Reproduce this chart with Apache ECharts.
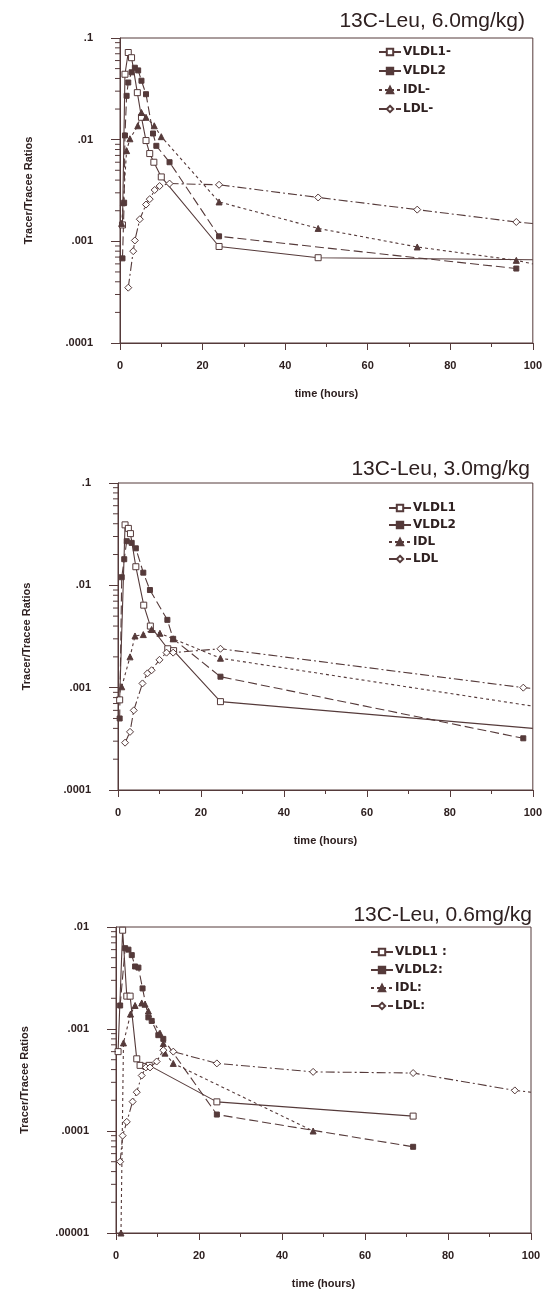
<!DOCTYPE html>
<html>
<head>
    <meta charset="utf-8">
    <title>Tracer/Tracee</title>
    <script src="https://cdn.jsdelivr.net/npm/echarts@6/dist/echarts.min.js"></script>
    <style>
        body { margin: 0; background: #fff; }
        #main { width: 545px; height: 1293px; }
    </style>
</head>
<body>
<div id="main"></div>

<script type="text/javascript">
    // panel titles and legend names
    var titles = ['13C-Leu, 6.0mg/kg)', '13C-Leu, 3.0mg/kg', '13C-Leu, 0.6mg/kg'];
    var names6 = ['VLDL1-', 'VLDL2', 'IDL-', 'LDL-'];
    var names3 = ['VLDL1', 'VLDL2', 'IDL', 'LDL'];
    var names06 = ['VLDL1 :', 'VLDL2:', 'IDL:', 'LDL:'];

    // tick labels
    var xTicks = ['0', '20', '40', '60', '80', '100'];
    var yTicksTop = ['.1', '.01', '.001', '.0001'];
    var yTicksBottom = ['.01', '.001', '.0001', '.00001'];

    // [time (hours), ratio]  -- 6.0 mg/kg
    var vldl1_6 = [[0.6, 0.00145], [1.2, 0.044], [2, 0.072], [2.8, 0.064], [4.2, 0.029], [5.2, 0.0166], [6.3, 0.0098], [7.2, 0.0073], [8.2, 0.006], [10, 0.0043], [24, 0.00089], [48, 0.00069], [100, 0.00066]];
    var vldl2_6 = [[0.6, 0.00068], [1, 0.0024], [1.2, 0.011], [1.6, 0.027], [2, 0.0365], [2.8, 0.046], [3.6, 0.051], [4.4, 0.048], [5.2, 0.038], [6.3, 0.028], [8, 0.0115], [8.8, 0.0087], [12, 0.006], [24, 0.00112], [96, 0.00054]];
    var idl_6 = [[0.4, 0.0015], [0.8, 0.0024], [1.6, 0.0078], [2.4, 0.0102], [4.3, 0.0137], [5.2, 0.0185], [6.3, 0.0166], [8.3, 0.0137], [10, 0.0107], [24, 0.00244], [48, 0.00134], [72, 0.00088], [96, 0.00065], [100, 0.0006]];
    var ldl_6 = [[2, 0.00035], [3.2, 0.0008], [3.6, 0.00102], [4.8, 0.00165], [6.3, 0.0023], [7.2, 0.0026], [8.4, 0.0032], [9.6, 0.0035], [12, 0.0037], [24, 0.0036], [48, 0.0027], [72, 0.00205], [96, 0.00155], [100, 0.0015]];

    // 3.0 mg/kg
    var vldl1_3 = [[0.4, 0.00076], [1.7, 0.039], [2.5, 0.036], [3, 0.032], [4.3, 0.0152], [6.2, 0.0064], [7.8, 0.004], [12, 0.0024], [13.4, 0.0023], [24.7, 0.00073], [100, 0.0004]];
    var vldl2_3 = [[0.4, 0.0005], [0.9, 0.012], [1.5, 0.018], [2.1, 0.027], [3.3, 0.026], [4.3, 0.023], [6.1, 0.0133], [7.7, 0.009], [11.9, 0.0046], [13.3, 0.003], [24.7, 0.00128], [97.7, 0.00032]];
    var idl_3 = [[0.9, 0.00102], [2.9, 0.002], [4.1, 0.0032], [6.1, 0.0033], [8.1, 0.0037], [10.1, 0.0034], [13.3, 0.003], [24.7, 0.00194], [100, 0.00066]];
    var ldl_3 = [[1.7, 0.00029], [2.9, 0.00037], [3.8, 0.0006], [5.9, 0.0011], [7.1, 0.00138], [8.1, 0.00148], [10, 0.00187], [11.7, 0.0022], [13.3, 0.0022], [24.7, 0.0024], [97.7, 0.001], [100, 0.00098]];

    // 0.6 mg/kg
    var vldl1_06 = [[0.5, 0.0006], [1.6, 0.0093], [2.6, 0.0021], [3.4, 0.0021], [5, 0.00051], [5.8, 0.00044], [7.2, 0.00043], [8, 0.00044], [24.3, 0.000193], [71.6, 0.00014]];
    var vldl2_06 = [[1, 0.0017], [2.2, 0.0062], [3, 0.006], [3.8, 0.0053], [4.6, 0.0041], [5.4, 0.004], [6.4, 0.0025], [7.8, 0.0013], [8.6, 0.0012], [10.2, 0.00087], [11.4, 0.0008], [24.3, 0.000145], [71.6, 0.00007]];
    var idl_06 = [[1.2, 0.00001], [1.8, 0.00073], [3.5, 0.0014], [4.6, 0.0017], [6.2, 0.0018], [7, 0.00175], [7.8, 0.0015], [10.6, 0.00091], [11.4, 0.00072], [11.8, 0.00058], [13.8, 0.00046], [47.5, 0.0001]];
    var ldl_06 = [[1, 0.00005], [1.6, 0.00009], [2.6, 0.000123], [4, 0.000194], [5, 0.00024], [6.2, 0.00035], [7.2, 0.00042], [8.2, 0.00042], [9.8, 0.00048], [11.4, 0.00062], [13.8, 0.0006], [24.3, 0.00046], [47.5, 0.00038], [71.6, 0.00037], [96.1, 0.00025], [100, 0.00024]];

    var ink = '#553a3a';
    var txt = '#2e2020';
    var font = 'Liberation Sans, Arial, sans-serif';

    var panels = [
        { top: 38, left: 120, width: 415, height: 305, min: 0.0001, max: 0.1, yLabels: yTicksTop, names: names6,
          data: [vldl1_6, vldl2_6, idl_6, ldl_6], title: titles[0], titleTop: 6, titleRight: 15,
          legend: { left: 378, top: 46, gap: 7 } },
        { top: 483, left: 118, width: 415, height: 307, min: 0.0001, max: 0.1, yLabels: yTicksTop, names: names3,
          data: [vldl1_3, vldl2_3, idl_3, ldl_3], title: titles[1], titleTop: 454, titleRight: 10,
          legend: { left: 388, top: 502, gap: 5 } },
        { top: 927, left: 116, width: 415, height: 306, min: 0.00001, max: 0.01, yLabels: yTicksBottom, names: names06,
          data: [vldl1_06, vldl2_06, idl_06, ldl_06], title: titles[2], titleTop: 900, titleRight: 8,
          legend: { left: 370, top: 946, gap: 6 } }
    ];

    // marker / line style of the four fractions
    var looks = [
        { symbol: 'rect', size: 6, fill: '#fff', dash: 'solid' },
        { symbol: 'rect', size: 5, fill: ink, dash: [9, 4] },
        { symbol: 'triangle', size: 6, fill: ink, dash: [3, 3] },
        { symbol: 'diamond', size: 7, fill: '#fff', dash: [9, 3, 2, 3] }
    ];

    var grids = [], xAxes = [], yAxes = [], series = [], legends = [], titleList = [];

    panels.forEach(function (p, i) {
        grids.push({ left: p.left, top: p.top, width: p.width, height: p.height,
            show: true, borderColor: ink, borderWidth: 1, backgroundColor: 'transparent' });

        xAxes.push({
            gridIndex: i, type: 'value', min: 0, max: 100, interval: 20,
            name: 'time (hours)', nameLocation: 'middle', nameGap: 45,
            nameTextStyle: { color: txt, fontSize: 11, fontWeight: 'bold', fontFamily: font },
            axisLine: { lineStyle: { color: ink } },
            axisTick: { length: 7, lineStyle: { color: ink } },
            minorTick: { show: true, splitNumber: 2, length: 4, lineStyle: { color: ink } },
            splitLine: { show: false },
            axisLabel: { color: txt, fontSize: 11, fontWeight: 'bold', fontFamily: font, margin: 17,
                formatter: function (v) { return xTicks[Math.round(v / 20)]; } }
        });

        var topExp = Math.round(Math.log10(p.max));
        yAxes.push({
            gridIndex: i, type: 'log', logBase: 10, min: p.min, max: p.max,
            name: 'Tracer/Tracee Ratios', nameLocation: 'middle', nameGap: 86, nameRotate: 90,
            nameTextStyle: { color: txt, fontSize: 11, fontWeight: 'bold', fontFamily: font },
            axisLine: { lineStyle: { color: ink } },
            axisTick: { length: 9, lineStyle: { color: ink } },
            splitLine: { show: false },
            axisLabel: { color: txt, fontSize: 11, fontWeight: 'bold', fontFamily: font, margin: 27,
                formatter: function (v) { return p.yLabels[topExp - Math.round(Math.log10(v))]; } }
        });

        titleList.push({ text: p.title, right: p.titleRight, top: p.titleTop,
            textStyle: { color: txt, fontSize: 21, fontWeight: 'normal', fontFamily: font } });

        legends.push({
            orient: 'vertical', left: p.legend.left, top: p.legend.top, itemGap: p.legend.gap,
            itemWidth: 22, itemHeight: 8, data: p.names, selectedMode: false, padding: 0,
            textStyle: { color: txt, fontSize: 12, fontWeight: 'bold', fontFamily: 'DejaVu Sans, sans-serif',
                padding: [0, 0, 0, -3] }
        });

        p.data.forEach(function (arr, k) {
            var lk = looks[k];
            series.push({
                name: p.names[k], type: 'line', xAxisIndex: i, yAxisIndex: i,
                symbol: lk.symbol, symbolSize: lk.size, showSymbol: true,
                lineStyle: { color: ink, width: 1.1, type: lk.dash },
                itemStyle: { color: lk.fill, borderColor: ink, borderWidth: 1 },
                data: arr.map(function (d) {
                    return d[0] >= 100 ? { value: d, symbol: 'none' } : d;
                }),
                animation: false, z: 3
            });
        });

        // minor log ticks on the left axis (2..9 of each decade)
        var minor = [];
        for (var e = Math.round(Math.log10(p.min)); e < topExp; e++) {
            for (var m = 2; m <= 9; m++) minor.push([0, m * Math.pow(10, e)]);
        }
        series.push({
            type: 'custom', xAxisIndex: i, yAxisIndex: i, silent: true, clip: false,
            data: minor, animation: false, z: 4,
            renderItem: function (params, api) {
                var c = api.coord([api.value(0), api.value(1)]);
                return { type: 'line', shape: { x1: c[0] - 5, y1: c[1], x2: c[0], y2: c[1] },
                    style: { stroke: ink, lineWidth: 1 } };
            }
        });
    });

    var myChart = echarts.init(document.getElementById('main'));
    myChart.setOption({
        backgroundColor: '#fff',
        animation: false,
        title: titleList,
        legend: legends,
        grid: grids,
        xAxis: xAxes,
        yAxis: yAxes,
        series: series
    });
</script>
</body>
</html>
